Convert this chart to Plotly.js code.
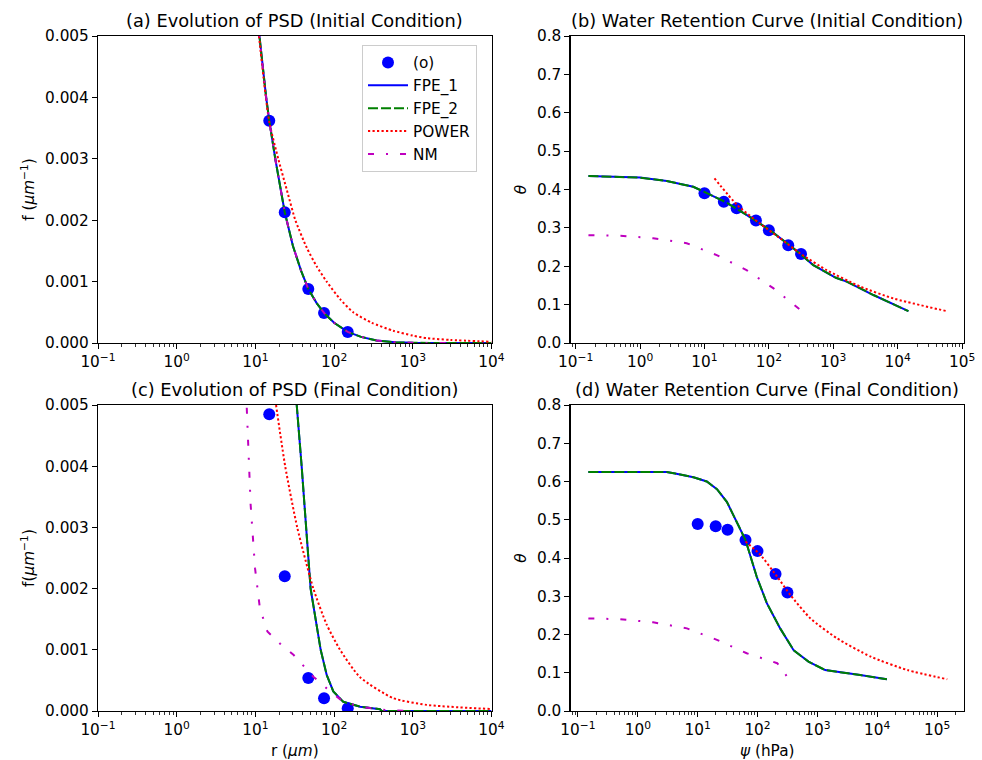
<!DOCTYPE html>
<html><head><meta charset="utf-8">
<script src="https://cdn.plot.ly/plotly-3.0.1.min.js"></script>
<style>html,body{margin:0;padding:0;background:#fff}</style>
</head><body><div id="chart" style="width:982px;height:760px"></div>
<script>
// ---------- Panel (a): PSD, initial condition ----------
const obsA_r = [15, 23.6, 47, 74.5, 149];
const obsA_f = [0.00362, 0.00213, 0.00088, 0.00049, 0.00018];
const fpeA_r = [10, 11.2, 13.7, 15, 18, 23.6, 30, 38, 47, 60, 74.5, 100, 149, 220, 347, 600, 1000, 3000, 10000];
const fpeA_f = [0.0056, 0.0050, 0.0040, 0.00362, 0.00298, 0.00213, 0.00158, 0.00118, 0.00088, 0.00065, 0.00049, 0.00033, 0.00018, 0.0001, 0.00004, 0.000012, 0.000003, 0, 0];
const powA_r = [11.1, 13, 15, 19.5, 25, 32.2, 45, 60, 80.5, 120, 175, 300, 565, 1000, 1500, 3000, 10000];
const powA_f = [0.0050, 0.0042, 0.0036, 0.0030, 0.0025, 0.0020, 0.00155, 0.00125, 0.0010, 0.00071, 0.0005, 0.00033, 0.0002, 0.00012, 0.00008, 0.00005, 0.00002];
const nmA_r = [10, 11.2, 13.7, 15, 18, 23.6, 30, 38, 47, 60, 74.5, 100, 149, 220, 347, 600, 1000, 3000];
const nmA_f = [0.0056, 0.0050, 0.0040, 0.00362, 0.00298, 0.00213, 0.00158, 0.00118, 0.00088, 0.00065, 0.00049, 0.00033, 0.00018, 0.0001, 0.00004, 0.000012, 0.000003, 0];

// ---------- Panel (b): water retention, initial ----------
const obsB_psi = [10, 20, 31.6, 63, 100, 200, 316];
const obsB_th = [0.390, 0.368, 0.351, 0.319, 0.294, 0.255, 0.232];
const fpeB_psi = [0.158, 0.34, 1, 2.6, 6.7, 10.5, 22, 45, 104, 240, 490, 1100, 1620, 4200, 14700];
const fpeB_th = [0.435, 0.433, 0.431, 0.422, 0.407, 0.392, 0.366, 0.334, 0.294, 0.247, 0.203, 0.170, 0.160, 0.125, 0.083];
const powB_psi = [14.3, 32, 73, 149, 303, 790, 2630, 8600, 58000];
const powB_th = [0.429, 0.36, 0.311, 0.273, 0.234, 0.19, 0.147, 0.116, 0.083];
const nmB_psi = [0.158, 0.55, 1.6, 5.3, 15.5, 45, 117, 331];
const nmB_th = [0.281, 0.279, 0.273, 0.26, 0.229, 0.19, 0.143, 0.082];

// ---------- Panel (c): PSD, final condition ----------
const obsC_r = [15, 23.6, 47, 74.5, 149];
const obsC_f = [0.00485, 0.0022, 0.00054, 0.00021, 0.000045];
const fpeC_r = [30, 33.5, 38.7, 44, 50.3, 60, 67.5, 80.5, 97.7, 131, 214, 383, 400, 1000, 10000];
const fpeC_f = [0.0065, 0.0050, 0.0040, 0.0030, 0.0020, 0.0014, 0.0010, 0.00059, 0.00032, 0.00015, 0.00007, 0.00003, 0, 0, 0];
const powC_r = [18.3, 23.9, 34, 54.5, 80, 119, 214, 565, 1500, 9550];
const powC_f = [0.0050, 0.0040, 0.0030, 0.0020, 0.00142, 0.0010, 0.00055, 0.00021, 0.0001, 0.000033];
const nmC_r = [7.6, 7.74, 8.3, 8.7, 9.9, 11.4, 14.2, 20.6, 30.4, 54.5, 80.5, 131, 214, 400, 1000];
const nmC_f = [0.0060, 0.0050, 0.00402, 0.00337, 0.00233, 0.00168, 0.0013, 0.0011, 0.00092, 0.00056, 0.00037, 0.00015, 0.00007, 0.00002, 0];

// ---------- Panel (d): water retention, final ----------
const obsD_psi = [10, 20, 31.6, 63, 100, 200, 316];
const obsD_th = [0.489, 0.483, 0.474, 0.447, 0.418, 0.358, 0.310];
const fpeD_psi = [0.149, 3.04, 4.2, 8.5, 14.2, 21, 30.7, 45, 63, 97, 143, 239, 400, 710, 1350, 5200, 14500];
const fpeD_th = [0.625, 0.625, 0.621, 0.611, 0.600, 0.580, 0.547, 0.495, 0.447, 0.351, 0.282, 0.216, 0.159, 0.129, 0.107, 0.094, 0.083];
const powD_psi = [63, 112, 213, 355, 766, 2130, 7800, 32000, 148000];
const powD_th = [0.443, 0.408, 0.351, 0.303, 0.242, 0.190, 0.142, 0.107, 0.083];
const nmD_psi = [0.149, 0.5, 1.8, 6.6, 21, 66, 213, 278, 330];
const nmD_th = [0.242, 0.240, 0.232, 0.216, 0.186, 0.151, 0.125, 0.103, 0.081];

const seriesNames = ['(o)', 'FPE_1', 'FPE_2', 'POWER', 'NM'];
const tickExp = [-1, 0, 1, 2, 3, 4, 5];

// ---------- styling helpers ----------
const FONT = 'DejaVu Sans, Liberation Sans, sans-serif';
const TICK = 15.3, TITLE = 17.8;
const colors = {obs: '#0000ff', fpe1: '#0000ff', fpe2: '#008000', pow: '#ff0000', nm: '#bf00bf'};

function panelTraces(xa, ya, obs, fpe, pow, nm, legend) {
  return [
    {x: obs[0], y: obs[1], xaxis: xa, yaxis: ya, mode: 'markers', name: seriesNames[0], showlegend: legend,
     marker: {color: colors.obs, size: 12}},
    {x: fpe[0], y: fpe[1], xaxis: xa, yaxis: ya, mode: 'lines', name: seriesNames[1], showlegend: legend,
     line: {color: colors.fpe1, width: 2}},
    {x: fpe[0], y: fpe[1], xaxis: xa, yaxis: ya, mode: 'lines', name: seriesNames[2], showlegend: legend,
     line: {color: colors.fpe2, width: 2, dash: '10px,3px'}},
    {x: pow[0], y: pow[1], xaxis: xa, yaxis: ya, mode: 'lines', name: seriesNames[3], showlegend: legend,
     line: {color: colors.pow, width: 2, dash: '2.2px,2.3px', shape: 'spline', smoothing: 0.6}},
    {x: nm[0], y: nm[1], xaxis: xa, yaxis: ya, mode: 'lines', name: seriesNames[4], showlegend: legend,
     line: {color: colors.nm, width: 2, dash: '6px,12px,2px,12px'}}
  ];
}

const data = [].concat(
  panelTraces('x', 'y', [obsA_r, obsA_f], [fpeA_r, fpeA_f], [powA_r, powA_f], [nmA_r, nmA_f], true),
  panelTraces('x2', 'y2', [obsB_psi, obsB_th], [fpeB_psi, fpeB_th], [powB_psi, powB_th], [nmB_psi, nmB_th], false),
  panelTraces('x3', 'y3', [obsC_r, obsC_f], [fpeC_r, fpeC_f], [powC_r, powC_f], [nmC_r, nmC_f], false),
  panelTraces('x4', 'y4', [obsD_psi, obsD_th], [fpeD_psi, fpeD_th], [powD_psi, powD_th], [nmD_psi, nmD_th], false)
);

function minorVals() {
  const v = [];
  for (let k = -2; k <= 6; k++) for (let m = 2; m <= 9; m++) v.push(m * Math.pow(10, k));
  return v;
}
function logAxis(domain, range, anchor, titleText) {
  const ax = {
    type: 'log', domain: domain, range: range, anchor: anchor,
    showline: true, mirror: true, linecolor: '#000', linewidth: 1.1,
    showgrid: false, zeroline: false, automargin: false,
    ticks: 'outside', ticklen: 5, tickwidth: 1, tickcolor: '#000',
    tickmode: 'array',
    tickvals: tickExp.map(e => Math.pow(10, e)),
    ticktext: tickExp.map(e => '10<sup>' + (e < 0 ? '\u2212' + (-e) : e) + '</sup>'),
    tickfont: {size: TICK, family: FONT, color: '#000'},
    minor: {tickmode: 'array', tickvals: minorVals(), ticks: 'outside', ticklen: 2.5, tickwidth: 0.8, tickcolor: '#000', showgrid: false}
  };
  if (titleText) ax.title = {text: titleText, font: {size: TICK, family: FONT, color: '#000'}, standoff: 8};
  return ax;
}
function linAxis(domain, range, anchor, dtick, fmt, titleText) {
  return {
    domain: domain, range: range, anchor: anchor,
    showline: true, mirror: true, linecolor: '#000', linewidth: 1.1,
    showgrid: false, zeroline: false, automargin: false,
    ticks: 'outside', ticklen: 5, tickwidth: 1, tickcolor: '#000',
    tick0: 0, dtick: dtick, tickformat: fmt,
    tickfont: {size: TICK, family: FONT, color: '#000'},
    title: {text: titleText, font: {size: TICK, family: FONT, color: '#000'}, standoff: 6}
  };
}

const W = 982, H = 760;
const colL = [98 / W, 491.5 / W], colR = [570.5 / W, 964 / W];
const rowT = [1 - 343 / H, 1 - 36 / H], rowB = [1 - 711 / H, 1 - 405 / H];

const titles = [
  ['(a) Evolution of PSD (Initial Condition)', colL, rowT],
  ['(b) Water Retention Curve (Initial Condition)', colR, rowT],
  ['(c) Evolution of PSD (Final Condition)', colL, rowB],
  ['(d) Water Retention Curve (Final Condition)', colR, rowB]
];

const layout = {
  width: W, height: H,
  margin: {l: 0, r: 0, t: 0, b: 0},
  paper_bgcolor: '#fff', plot_bgcolor: '#fff',
  font: {family: FONT, color: '#000', size: TICK},
  xaxis: logAxis(colL, [-1, 4], 'y', ''),
  yaxis: linAxis(rowT, [0, 0.005], 'x', 0.001, '.3f', 'f (<i>\u03bcm</i><sup>\u22121</sup>)'),
  xaxis2: logAxis(colR, [-1.08, 5.03], 'y2', ''),
  yaxis2: linAxis(rowT, [0, 0.8], 'x2', 0.1, '.1f', '<i>\u03b8</i>'),
  xaxis3: logAxis(colL, [-1, 4], 'y3', 'r (<i>\u03bcm</i>)'),
  yaxis3: linAxis(rowB, [0, 0.005], 'x3', 0.001, '.3f', 'f(<i>\u03bcm</i><sup>\u22121</sup>)'),
  xaxis4: logAxis(colR, [-1.125, 5.45], 'y4', '<i>\u03c8</i> (hPa)'),
  yaxis4: linAxis(rowB, [0, 0.8], 'x4', 0.1, '.1f', '<i>\u03b8</i>'),
  showlegend: true,
  legend: {
    x: 362 / W, y: 1 - 45 / H, xanchor: 'left', yanchor: 'top',
    bgcolor: 'rgba(255,255,255,0.85)', bordercolor: '#cccccc', borderwidth: 1,
    font: {size: TICK, family: FONT, color: '#000'}, tracegroupgap: 0, itemwidth: 40
  },
  annotations: titles.map(t => ({
    text: t[0], xref: 'paper', yref: 'paper', x: (t[1][0] + t[1][1]) / 2, y: t[2][1],
    xanchor: 'center', yanchor: 'bottom', yshift: 3, showarrow: false,
    font: {size: TITLE, family: FONT, color: '#000'}
  }))
};

Plotly.newPlot('chart', data, layout, {displayModeBar: false, staticPlot: true});
</script></body></html>
